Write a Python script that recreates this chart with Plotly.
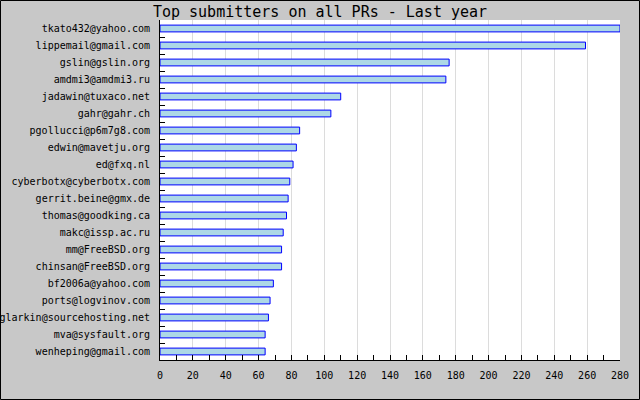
import plotly.graph_objects as go

submitters = [
    "tkato432@yahoo.com", "lippemail@gmail.com", "gslin@gslin.org", "amdmi3@amdmi3.ru",
    "jadawin@tuxaco.net", "gahr@gahr.ch", "pgollucci@p6m7g8.com", "edwin@mavetju.org",
    "ed@fxq.nl", "cyberbotx@cyberbotx.com", "gerrit.beine@gmx.de", "thomas@goodking.ca",
    "makc@issp.ac.ru", "mm@FreeBSD.org", "chinsan@FreeBSD.org", "bf2006a@yahoo.com",
    "ports@logvinov.com", "glarkin@sourcehosting.net", "mva@sysfault.org", "wenheping@gmail.com",
]
pr_counts = [280, 259, 176, 174, 110, 104, 85, 83, 81, 79, 78, 77, 75, 74, 74, 69, 67, 66, 64, 64]
x_ticks = list(range(0, 281, 20))

W, H = 640, 400
L, R, T, B = 160, 20, 20, 40
pw, ph = W - L - R, H - T - B
FONT = "DejaVu Sans Mono"

fig = go.Figure(go.Bar(
    x=pr_counts, y=submitters, orientation="h", width=0.4,
    marker=dict(color="#add8e6", line=dict(color="#0000ff", width=1)),
))

fig.update_layout(
    width=W, height=H,
    margin=dict(l=L, r=R, t=T, b=B, pad=0, autoexpand=False),
    paper_bgcolor="#c8c8c8", plot_bgcolor="#ffffff",
    font=dict(family=FONT, size=10, color="#000000"),
    title=dict(text="Top submitters on all PRs - Last year", x=0.5, xanchor="center",
               y=1 - 12 / H, yanchor="middle", yref="container",
               font=dict(family=FONT, size=15, color="#000000")),
    showlegend=False,
    shapes=[dict(type="rect", xref="paper", yref="paper",
                 x0=(-L + 0.5) / pw, x1=(pw + R - 0.5) / pw,
                 y0=(-B + 0.5) / ph, y1=(ph + T - 0.5) / ph,
                 line=dict(color="#000000", width=1), fillcolor="rgba(0,0,0,0)", layer="above")],
)

fig.update_xaxes(
    range=[0, 280], tickvals=x_ticks, showgrid=True, gridcolor="#dcdcdc", gridwidth=1,
    showline=True, linecolor="#000000", linewidth=1, zeroline=False, automargin=False,
    ticks="inside", ticklen=5, tickcolor="#000000", ticklabelstandoff=6,
    minor=dict(ticks="inside", dtick=10, ticklen=5, tickcolor="#000000", showgrid=False),
    tickfont=dict(family=FONT, size=10),
)
fig.update_yaxes(
    type="category", categoryorder="array", categoryarray=submitters, autorange="reversed",
    showgrid=False, showline=True, linecolor="#000000", linewidth=1, zeroline=False,
    automargin=False,
    ticks="inside", tickson="boundaries", ticklen=5, tickcolor="#000000", ticklabelstandoff=7,
    tickfont=dict(family=FONT, size=10),
)

fig.write_html("out.html", config={"displayModeBar": False},
               post_script="document.body.style.margin='0';document.body.style.overflow='hidden';")
